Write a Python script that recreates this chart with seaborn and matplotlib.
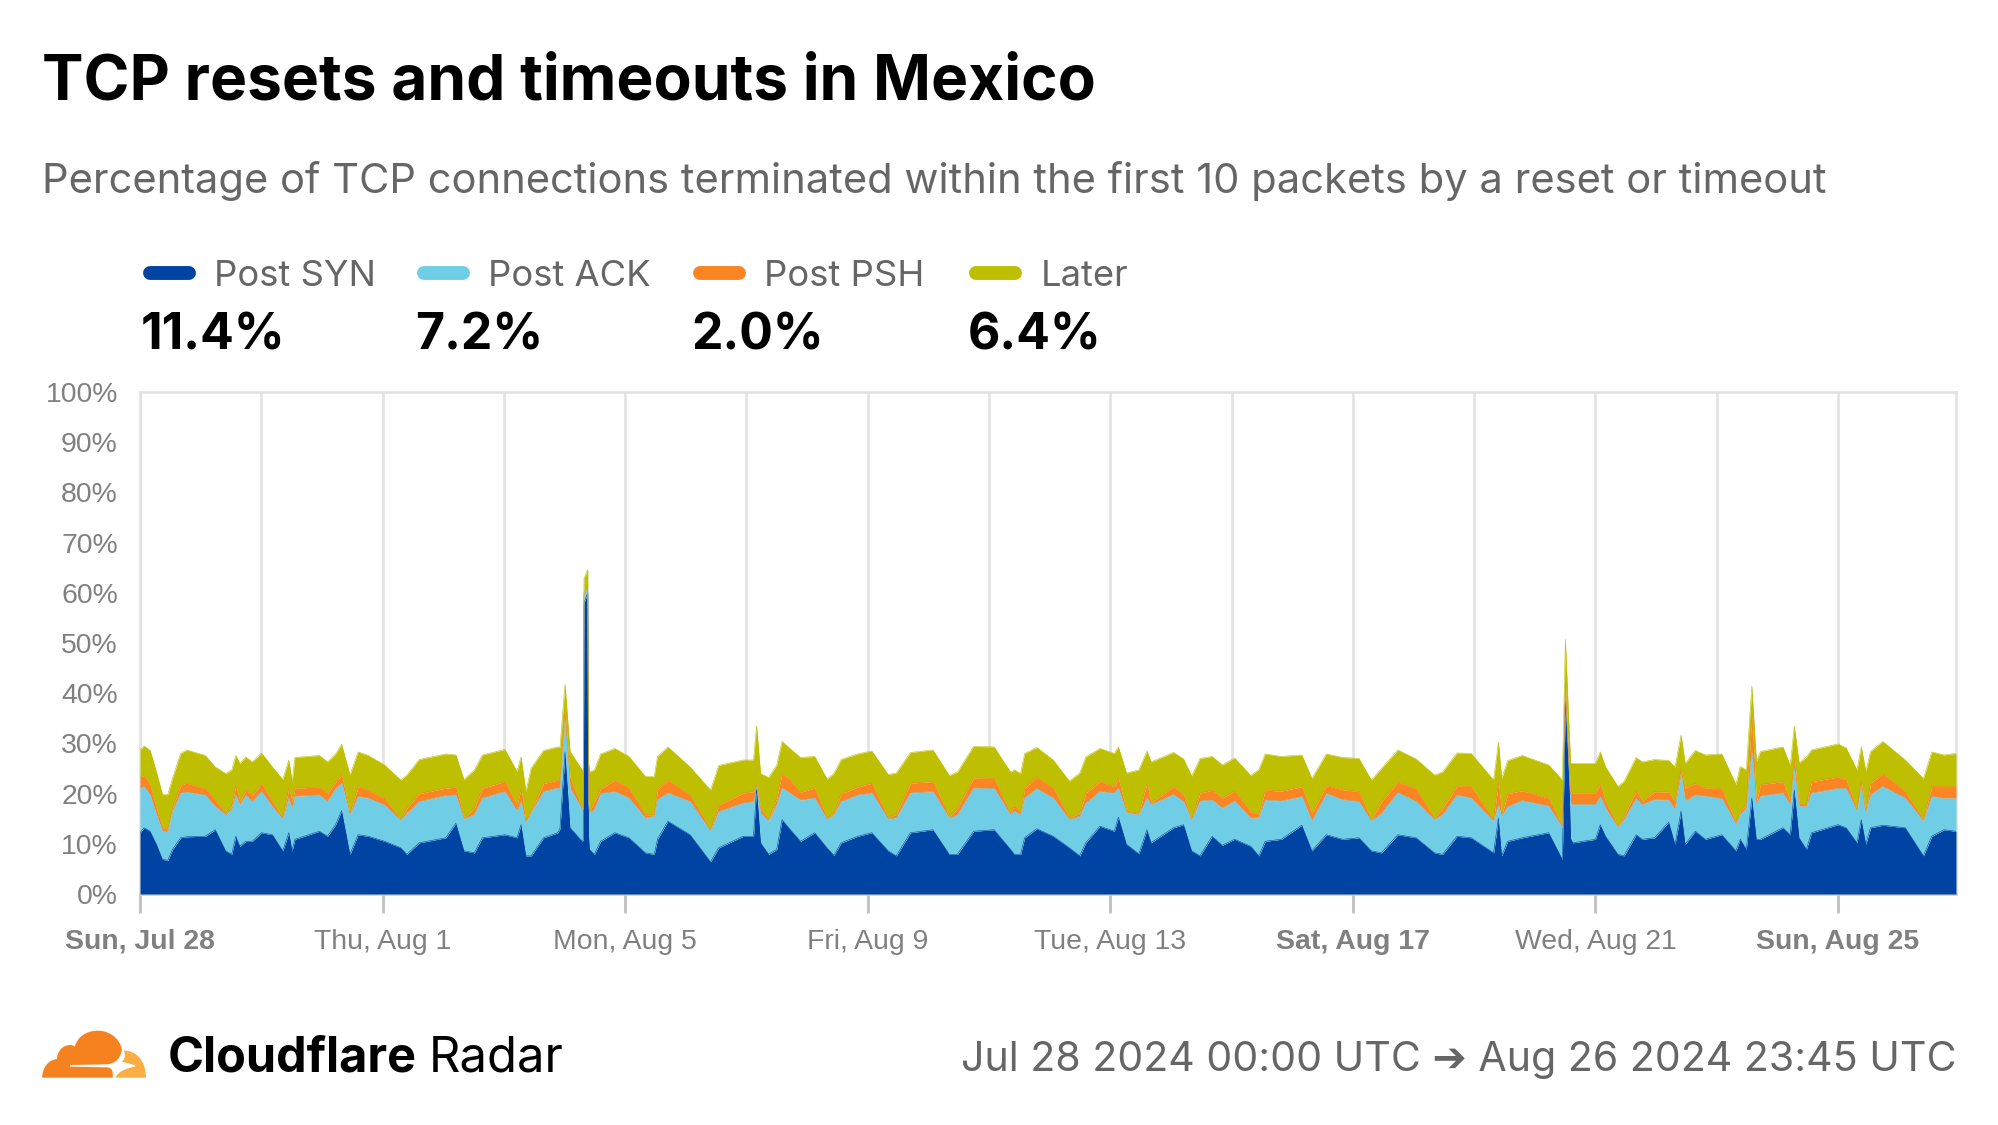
import seaborn as sns
import matplotlib.pyplot as plt
from matplotlib.patches import PathPatch
from matplotlib.path import Path
from matplotlib.lines import Line2D
import numpy as np
import pandas as pd

start = pd.Timestamp("2024-07-28 00:00")

hours = [0, 1.6, 4, 6.5, 8.9, 11, 12.9, 16.1, 18.5, 25.8, 29.8, 33.9, 36.3, 37.9, 39.5, 41.9, 44.4, 48.1, 52.4, 56.5,
         58.9, 60.2, 61.3, 71, 74.2, 77.4, 79.8, 83.1, 86.3, 90.3, 96.8, 103.2, 105.6, 110.5, 121, 125, 128.2, 132.3,
         135.5, 144.4, 149.2, 150.8, 152.7, 154.8, 159.7, 165.3, 166.2, 168.2, 170.2, 175, 175.4, 175.7, 177.2, 177.5, 177.9,
         179.8, 182.3, 187.9, 193.5, 200, 203.5, 204.8, 208.9, 217.7, 225.8, 229, 238.7, 242.8, 244, 245.6, 248.8,
         252, 254.1, 257.4, 261.4, 267, 271.9, 274.6, 277.5, 284, 289.6, 296.1, 299.3, 304.9, 313.8, 320.3, 323.5,
         329.9, 338, 344.5, 346.1, 348.5, 350.1, 354.9, 361.4, 367.8, 371.9, 374.3, 379.9, 385.6, 387.2, 390.4, 395.3,
         398.5, 400.1, 409, 413, 416.2, 419.5, 424.3, 428.3, 433.2, 439.6, 442.8, 445.3, 451.7, 459.8, 463.8, 469.5,
         475.9, 482.4, 487.3, 491.3, 497.8, 505, 512.3, 515.5, 521.2, 526.8, 535.7, 537.6, 538.9, 541.3, 547, 557.5,
         562.9, 564.1, 565.5, 566.2, 567.1, 576, 577.9, 580, 584.9, 587.3, 592.1, 594.5, 599.4, 605, 607.5, 609.9, 611.5,
         615.5, 619.5, 626, 631.6, 633.3, 635.7, 637.9, 639.7, 641.3, 650.2, 653.1, 654.7, 656.6, 659.5, 661.5, 672,
         675.2, 679.5, 681.2, 683, 684.9, 689.7, 698.6, 705.8, 709.1, 713.9, 718.7]

post_syn = [12.2, 13.2, 12.5, 9.9, 6.9, 6.7, 8.9, 11.2, 11.4, 11.5, 12.8, 8.6, 7.9, 11.5, 9.5, 10.5, 10.5, 12.2, 11.8, 8.6,
            12.2, 8.6, 10.9, 12.5, 11.5, 13.8, 16.6, 7.9, 11.8, 11.5, 10.5, 9.2, 7.9, 10.2, 11.2, 14.1, 8.6, 8.2,
            11.2, 11.8, 11.2, 13.8, 7.6, 7.6, 11.2, 12.2, 13, 28.3, 13.2, 10.5, 10.8, 58, 60, 12, 8.9,
            7.9, 10.5, 12.2, 11.2, 8.2, 7.9, 10.9, 14.5, 11.8, 6.4, 9.2, 11.5, 11.5, 21.1, 10.2, 7.9,
            8.9, 14.8, 12.8, 10.5, 12.2, 9.2, 7.7, 10.2, 11.5, 12.2, 8.6, 7.6, 12.2, 12.8, 7.9, 7.9,
            12.5, 12.8, 8.9, 7.9, 7.9, 11.2, 13, 11.5, 9.2, 7.6, 10.2, 13.5, 12.5, 15.3, 9.9, 8,
            12.8, 10.2, 13.2, 13.8, 8.6, 7.6, 11.5, 9.7, 10.9, 9.5, 7.6, 10.5, 10.9, 13.7, 8.6, 11.8,
            10.9, 11.2, 8.6, 8.2, 11.8, 11.2, 8.2, 7.9, 11.5, 11.2, 8.2, 15.1, 7.6, 10.5, 11.2, 12.2,
            6.9, 38.8, 24.3, 11, 10.2, 10.9, 13.8, 11.5, 7.9, 7.6, 11.8, 10.9, 11.2, 14.3, 9.9, 16.5, 9.9,
            12.5, 10.9, 11.8, 8.6, 10.9, 8.9, 19.1, 10.9, 10.9, 13.2, 11.8, 20.7, 11.2, 8.9, 12.2, 13.8,
            13.2, 10.2, 14.8, 9.9, 13.2, 13.7, 13.2, 7.6, 11.5, 12.8, 12.5]
post_ack = [8.9, 8.2, 7.2, 5.9, 5.6, 5.7, 7.6, 8.9, 8.9, 8.2, 4.6, 7.2, 8.9, 8.2, 8.2, 9.2, 7.9, 8.2, 5.6, 6.3,
            6.9, 8.2, 8.6, 7.2, 6.9, 7.2, 5.5, 7.9, 7.6, 7.6, 7.2, 5.4, 8.2, 8.2, 8.4, 5.6, 6.3, 7.6,
            7.9, 8.6, 5.3, 4.6, 6.6, 8.6, 9.2, 8.9, 8, 6.6, 7.9, 6.3, 6, 1.5, 1, 6.5, 7.2,
            8.9, 9.5, 8.2, 7.9, 6.9, 7.6, 7.9, 5.6, 6.6, 6.1, 7.2, 6.6, 6.9, 0.3, 5.9, 6.6,
            8.9, 6.3, 7.2, 8.2, 6.9, 5.6, 8.1, 8.2, 8.2, 7.9, 6.3, 7.6, 7.9, 7.6, 7.2, 7.9,
            8.6, 8.2, 6.9, 8.6, 7.9, 7.9, 8, 7.6, 5.6, 7.9, 7.9, 6.9, 7.6, 5.7, 6.3, 7.8,
            6.3, 7.6, 6.6, 4.6, 6.1, 10.9, 7.2, 7.4, 7.6, 5.6, 7.6, 8.2, 7.6, 5.7, 5.9, 8.2,
            7.9, 7.2, 5.9, 7.9, 8.4, 7.2, 6.6, 7.9, 8.2, 7.9, 6.3, 2.6, 7.9, 6.9, 7.4, 5.3,
            6.3, 2, 1, 7, 7.6, 6.9, 5.6, 5.6, 5.3, 7.2, 7.2, 6.9, 7.6, 4.4, 6.9, 7.6, 8.6,
            7.2, 8.6, 7.2, 5.3, 4.9, 8.2, 9.2, 6.9, 8.6, 6.9, 5.9, 4.3, 6.3, 8.6, 7.9, 7.2,
            7.8, 6.3, 6.9, 6.3, 6.6, 7.7, 5.9, 6.9, 7.9, 6.3, 6.6]
post_psh = [2.1, 2.2, 2, 1.3, 0.7, 0.5, 0.7, 1.6, 1.8, 1.3, 1.3, 0.3, 0.7, 2, 0.7, 1, 1.3, 1.6, 1, 0.3,
            2, 1.6, 1.6, 1.6, 1.6, 1.3, 1.6, 0.3, 2, 1.6, 1.3, 0.2, 1, 1.6, 1.5, 1.6, 0.3, 1.3,
            2, 2, 1.3, 2.6, 0.3, 0.3, 1.6, 1.6, 1.6, 1.6, 2, 0.3, 0.3, 0.4, 0.4, 0.3, 0.3,
            1.6, 1, 2.3, 2, 0.7, 0.3, 2, 2.6, 1.3, 0.3, 1.3, 2, 2, 0.3, 1, 0.3,
            1.3, 3, 2.6, 1.6, 2, 0.3, 0.3, 1.6, 1.6, 2, 0.3, 0.7, 2, 2, 0.3, 1.3,
            2, 2, 0.3, 1.3, 0.3, 2, 2.3, 2, 0.3, 0.7, 2, 2, 1.3, 2, 0.3, 0.3,
            3, 0.3, 1.6, 1.3, 0.2, 1.6, 2, 2, 2, 1.3, 0.7, 2, 2, 2, 1.6, 1.6,
            2, 2, 0.3, 2.3, 2.1, 2.6, 0.3, 1.3, 1.8, 2.3, 0.3, 4.6, 0.3, 2.6, 2, 1.6,
            0.3, 1.3, 0.7, 2, 2.3, 2.3, 2.6, 1.3, 0.3, 0.7, 1.6, 0.7, 1.6, 1.6, 1.6, 0.7, 2.6,
            2.3, 1.6, 2, 0.3, 0.7, 0.7, 7.2, 0.7, 2.3, 2.3, 0.7, 2, 0.7, 0.3, 2.3, 2.3,
            1.8, 0.3, 0.7, 0.3, 2.3, 2.6, 1.3, 0.3, 2, 2.3, 2.3]
later = [5.5, 5.9, 6.9, 7.2, 6.6, 6.9, 5.9, 6.3, 6.6, 6.6, 6.6, 7.9, 7.2, 5.9, 7.6, 6.6, 6.6, 6.1, 6.9, 7.6,
         5.6, 3.9, 6.1, 6.3, 6.3, 5.6, 6.1, 7.6, 6.9, 6.9, 6.7, 7.9, 6.6, 6.8, 6.8, 6.4, 7.6, 7.6,
         6.6, 6.4, 6.6, 6.3, 5.9, 8.6, 6.6, 6.6, 6.6, 5.3, 5.3, 7.6, 7.6, 3, 3.2, 7.6, 7.9,
         6.3, 6.9, 6.3, 6.3, 7.6, 7.6, 6.6, 6.6, 5.6, 7.9, 7.9, 6.6, 6.3, 11.8, 6.9, 8.4,
         6.6, 6.3, 6.3, 6.9, 6.3, 7.8, 7.9, 6.8, 6.6, 6.4, 8.6, 8.2, 6.1, 6.3, 8.2, 7.2,
         6.3, 6.3, 8.2, 6.9, 7.9, 6.9, 5.9, 5.6, 7.4, 7.9, 7.2, 6.6, 6.6, 6.3, 7.6, 8.6,
         6.4, 8.2, 6.8, 7.2, 8.6, 6.9, 6.7, 6.6, 6.6, 7.2, 8.9, 7.2, 6.9, 6.3, 6.9, 6.3,
         6.4, 6.6, 7.9, 6.6, 6.4, 5.9, 8.6, 7.2, 6.6, 6.6, 7.9, 7.9, 7.2, 6.6, 7, 6.6,
         9.2, 8.6, 7.6, 6, 5.9, 5.9, 6.3, 6.9, 7.9, 6.9, 6.6, 7.8, 6.4, 6.3, 6.9, 6.9, 4.9,
         6.6, 6.6, 6.9, 7.6, 8.9, 6.9, 5.9, 7.9, 6.6, 6.9, 7.2, 6.4, 7.9, 9.5, 6.3, 6.6,
         6.3, 7.9, 6.9, 7.9, 6.3, 6.4, 6.3, 8.2, 6.9, 6.3, 6.6]

series_names = ["Post SYN", "Post ACK", "Post PSH", "Later"]
series_colors = ["#0044a3", "#70cde6", "#fb8423", "#bdbf00"]
summary_values = ["11.4%", "7.2%", "2.0%", "6.4%"]
y_ticks = [0, 10, 20, 30, 40, 50, 60, 70, 80, 90, 100]
x_tick_labels = ["Sun, Jul 28", "Thu, Aug 1", "Mon, Aug 5", "Fri, Aug 9", "Tue, Aug 13",
                 "Sat, Aug 17", "Wed, Aug 21", "Sun, Aug 25"]
bold_labels = ["Sun, Jul 28", "Sat, Aug 17", "Sun, Aug 25"]

times = start + pd.to_timedelta(hours, unit="h")
stack = np.cumsum(np.array([post_syn, post_ack, post_psh, later]), axis=0)

W, H = 1999, 1125
sns.set_theme(style="white", rc={"font.family": "Inter"})
fig = plt.figure(figsize=(W / 100, H / 100), dpi=100, facecolor="white")

# plot area in pixels
left, right, top, bottom = 140, 1956, 392, 894
ax = fig.add_axes([left / W, 1 - bottom / H, (right - left) / W, (bottom - top) / H])

frames = []
for i, name in enumerate(series_names):
    frames.append(pd.DataFrame({"time": times, "top": stack[i], "series": name}))
df = pd.concat(frames)

lower = np.zeros(len(times))
for i, name in enumerate(series_names):
    ax.fill_between(times, lower, stack[i], color=series_colors[i], lw=0, zorder=3)
    lower = stack[i]
sns.lineplot(data=df, x="time", y="top", hue="series", palette=series_colors, hue_order=series_names,
             linewidth=0.4, legend=False, errorbar=None, estimator=None, ax=ax, zorder=4)

tick_dates = pd.date_range(start, periods=8, freq="4D")
grid_dates = pd.date_range(start, periods=15, freq="2D")
ax.set_xlim(start, times[-1])
ax.set_ylim(0, 100)
ax.set_xticks(grid_dates, minor=True)
ax.set_xticks(tick_dates)
ax.set_xticklabels(x_tick_labels)
ax.set_yticks(y_ticks)
ax.set_yticklabels([f"{v}%" for v in y_ticks])
ax.set_xlabel("")
ax.set_ylabel("")
ax.grid(False)
ax.grid(True, axis="x", which="both", color="#e2e2e2", lw=1.9, zorder=0)
ax.tick_params(axis="x", which="major", length=14, width=2.2, color="#c4c4c4", pad=11, labelsize=20.4,
               labelcolor="#808080", bottom=True)
ax.tick_params(axis="x", which="minor", length=0)
ax.tick_params(axis="y", length=0, pad=16, labelsize=20.4, labelcolor="#808080")
for lab in ax.get_xticklabels() + ax.get_yticklabels():
    lab.set_family("Liberation Sans")
for lab in ax.get_xticklabels():
    if lab.get_text() in bold_labels:
        lab.set_fontweight("bold")
for s in ax.spines.values():
    s.set_color("#e2e2e2")
    s.set_linewidth(1.9)
ax.spines["bottom"].set_color("#d0d0d0")

# everything around the chart, in pixel coordinates
ov = fig.add_axes([0, 0, 1, 1], facecolor="none")
ov.set_xlim(0, W)
ov.set_ylim(H, 0)
ov.axis("off")

ov.text(42, 83, "TCP resets and timeouts in Mexico", fontsize=44.8, fontweight="bold", color="black",
        ha="left", va="center")
ov.text(42, 181, "Percentage of TCP connections terminated within the first 10 packets by a reset or timeout",
        fontsize=30, color="#666666", ha="left", va="center")

col_x = [141, 415.5, 691.5, 967.5]
for x, name, val, c in zip(col_x, series_names, summary_values, series_colors):
    ov.add_line(Line2D([x + 9, x + 48], [273, 273], color=c, lw=10, solid_capstyle="round"))
    ov.text(x + 73, 277, name, fontsize=26.2, color="#666666", ha="left", va="center")
    ov.text(x, 336, val, fontsize=36, fontweight="bold", color="black", ha="left", va="center")

# logo in crop coordinates
def logo_xy(pts):
    return [(20 + px / 2.7, 1010 + py / 3) for px, py in pts]

M, L, C = Path.MOVETO, Path.LINETO, Path.CURVE4
cloud_pts = [(60, 203), (60, 175), (75, 150), (100, 147), (100, 125), (115, 105), (135, 105), (142, 105), (146, 108), (148, 110),
             (155, 80), (180, 62), (210, 62), (245, 62), (272, 90), (275, 120), (270, 150), (255, 160), (235, 163),
             (135, 165), (135, 170), (235, 172), (250, 174), (252, 185), (250, 203), (60, 203)]
cloud_codes = [M, C, C, C, C, C, C, C, C, C, C, C, C, C, C, C, C, C, C, L, L, L, C, C, C, L]
ov.add_patch(PathPatch(Path(logo_xy(cloud_pts), cloud_codes), facecolor="#f6821f", lw=0))
sun_pts = [(280, 122), (315, 120), (340, 155), (340, 203), (258, 203), (265, 185), (285, 175), (310, 170),
           (320, 165), (290, 160), (275, 155), (285, 145), (285, 135), (280, 122)]
sun_codes = [M, C, C, C, L, C, C, C, C, C, C, C, C, C]
ov.add_patch(PathPatch(Path(logo_xy(sun_pts), sun_codes), facecolor="#fbad41", lw=0))

ov.text(168, 1059, "Cloudflare", fontsize=35, fontweight="bold", color="black", ha="left", va="center")
ov.text(429, 1059, "Radar", fontsize=35.3, color="black", ha="left", va="center")
ov.text(1957, 1060, "Jul 28 2024 00:00 UTC ➔ Aug 26 2024 23:45 UTC", fontsize=29.6, color="#666666",
        ha="right", va="center", family=["Inter", "DejaVu Sans"])

fig.savefig("out.png", dpi=100)
